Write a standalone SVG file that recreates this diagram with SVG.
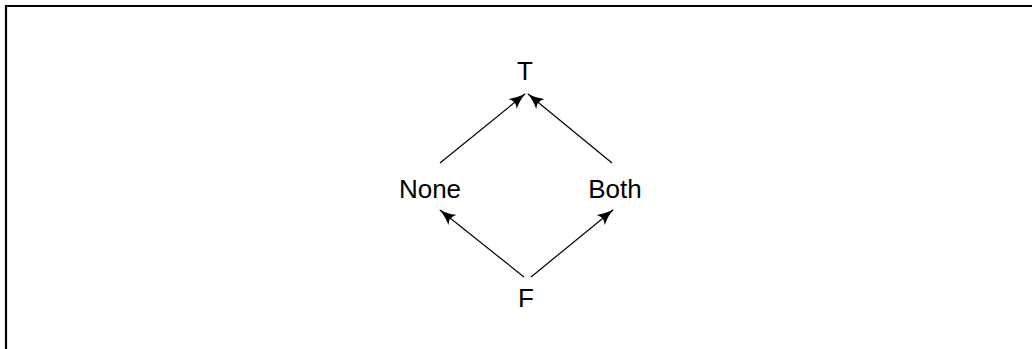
<svg xmlns="http://www.w3.org/2000/svg" width="1032" height="349" viewBox="0 0 1032 349">
<defs>
<style>
.lbl{font-family:"Liberation Sans","DejaVu Sans",sans-serif;font-size:26px;fill:#000;text-anchor:middle}
.edge{stroke:#000;stroke-width:1.2;fill:none;marker-end:url(#ah)}
</style>
<marker id="ah" viewBox="0 0 17 13" refX="16" refY="6.5" markerWidth="17" markerHeight="13" markerUnits="userSpaceOnUse" orient="auto">
<path d="M0,0 Q8,5 17,6.5 Q8,8 0,13 Q5,6.5 0,0 Z" fill="#000"/>
</marker>
</defs>
<rect width="1032" height="349" fill="#fff"/>
<path d="M6,349 V6 H1032" stroke="#000" stroke-width="2.2" fill="none"/>
<g id="connectors">
<line class="edge" x1="440" y1="163" x2="525" y2="94"/>
<line class="edge" x1="612" y1="163" x2="528" y2="94"/>
<line class="edge" x1="524" y1="277" x2="440" y2="210"/>
<line class="edge" x1="531" y1="277" x2="613" y2="210"/>
</g>
<g id="T"><text class="lbl" x="525" y="80">T</text></g>
<g id="None"><text class="lbl" x="430" y="198">None</text></g>
<g id="Both"><text class="lbl" x="615" y="198">Both</text></g>
<g id="F"><text class="lbl" x="526" y="307">F</text></g>
</svg>
